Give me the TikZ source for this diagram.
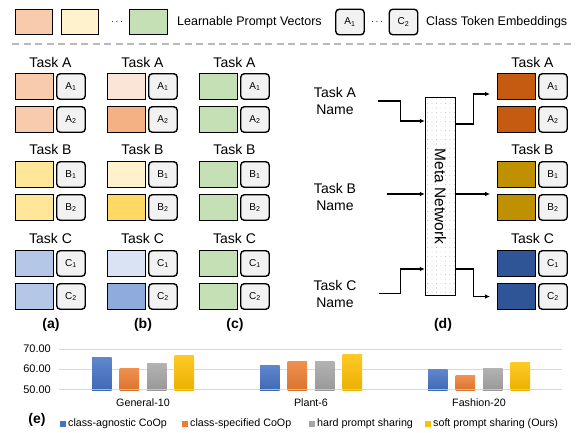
\documentclass[tikz,border=0pt]{standalone}
\usepackage{fontspec}
\setmainfont{Liberation Sans}
\usepackage{tikz}
\usetikzlibrary{arrows.meta,patterns.meta}

\definecolor{a1}{HTML}{F8CBAD}\colorlet{a2}{a1}
\definecolor{a3}{HTML}{FFE699}\colorlet{a4}{a3}
\definecolor{a5}{HTML}{B4C7E7}\colorlet{a6}{a5}
\definecolor{b1}{HTML}{FBE5D6}\definecolor{b2}{HTML}{F4B183}
\definecolor{b3}{HTML}{FFF2CC}\definecolor{b4}{HTML}{FFD966}
\definecolor{b5}{HTML}{DAE3F3}\definecolor{b6}{HTML}{8FAADC}
\definecolor{c1}{HTML}{C5E0B4}\colorlet{c2}{c1}\colorlet{c3}{c1}
\colorlet{c4}{c1}\colorlet{c5}{c1}\colorlet{c6}{c1}
\definecolor{d1}{HTML}{C55A11}\colorlet{d2}{d1}
\definecolor{d3}{HTML}{BF9000}\colorlet{d4}{d3}
\definecolor{d5}{HTML}{2F5597}\colorlet{d6}{d5}
\definecolor{tokgray}{HTML}{F2F2F2}
\definecolor{barA}{HTML}{4472C4}
\definecolor{barB}{HTML}{ED7D31}
\definecolor{barC}{HTML}{A5A5A5}
\definecolor{barD}{HTML}{FFC000}
\definecolor{gridgray}{HTML}{D9D9D9}

\begin{document}
\begin{tikzpicture}[x=1pt, y=-1pt, >={Latex[length=5pt,width=4.5pt]},
    prompt/.style={draw, line width=1.4pt, minimum width=37.5pt, minimum height=25.5pt, inner sep=0pt},
    token/.style={draw, line width=1.4pt, rounded corners=3.5pt, fill=tokgray, minimum width=28.5pt,
      minimum height=25.5pt, inner sep=0pt, font=\fontsize{10}{10}\selectfont},
    title/.style={font=\fontsize{14}{17}\selectfont, inner sep=1pt},
    panel/.style={font=\bfseries\fontsize{14}{16}\selectfont, inner sep=1pt},
    flow/.style={->, line width=1.3pt},
    grid/.style={gridgray, line width=0.9pt},
    small/.style={font=\fontsize{10.7}{12}\selectfont, inner sep=1pt}]

    \useasboundingbox (0,0) rectangle (576,432);

    % legend
    \node[prompt, fill=a1] (lp1) at (34,22) {};
    \node[prompt, fill=b3] (lp2) at (80,22) {};
    \node (ldots1) at (117,22) {$\cdots$};
    \node[prompt, fill=c1] (lp3) at (148.5,22) {};
    \node[anchor=west, inner sep=0pt, font=\fontsize{12.5}{14}\selectfont] (lptext) at (177,22) {Learnable Prompt Vectors};
    \node[token] (lt1) at (350,22) {A\textsubscript{1}};
    \node (ldots2) at (377,22) {$\cdots$};
    \node[token] (lt2) at (403.5,22) {C\textsubscript{2}};
    \node[anchor=west, inner sep=0pt, font=\fontsize{12.5}{14}\selectfont] (lttext) at (426,22) {Class Token Embeddings};
    \draw[gray!55, line width=1.2pt, dash pattern=on 7pt off 4.5pt] (12,44) -- (572,44);

    % panels (a)-(d)
    \foreach \pn/\x in {a/15, b/107, c/199, d/497} {
        \foreach \y/\tok [count=\i] in {86.5/A\textsubscript{1}, 119.5/A\textsubscript{2}, 174.5/B\textsubscript{1},
                                        207.5/B\textsubscript{2}, 263.5/C\textsubscript{1}, 296.5/C\textsubscript{2}} {
            \node[prompt, fill=\pn\i] (\pn p\i) at (\x+19.5,\y) {};
            \node[token] (\pn t\i) at (\x+56,\y) {\tok};
        }
        \foreach \y/\tsk in {62/A, 149/B, 238/C}
            \node[title] (\pn title\tsk) at (\x+35.5,\y) {Task \tsk};
    }
    \node[panel] (la) at (51,325) {(a)};
    \node[panel] (lb) at (143,325) {(b)};
    \node[panel] (lc) at (235,325) {(c)};
    \node[panel] (ld) at (443,325) {(d)};

    % meta network
    \node[title, align=center] (nameA) at (335,101) {Task A\\Name};
    \node[title, align=center] (nameB) at (335,196.5) {Task B\\Name};
    \node[title, align=center] (nameC) at (335,293.5) {Task C\\Name};
    \node[draw, line width=1.3pt, minimum width=30pt, minimum height=198pt,
          pattern={Dots[radius=0.35pt, distance=4.5pt]}, pattern color=gray!70] (meta) at (440.5,196.5) {};
    \node[rotate=-90, font=\fontsize{15.5}{16}\selectfont] (metatext) at (meta) {Meta Network};

    \draw[flow] (nameA.east) ++(21,0) -| ++(22,20) -- ([yshift=75.5pt]meta.west);
    \draw[flow] (nameB.east) ++(30,-2.5) -- ([yshift=2.5pt]meta.west);
    \draw[flow] (nameC.east) ++(21,0) -| ++(22,-24.5) -- ([yshift=-72.5pt]meta.west);
    \draw[flow] ([yshift=72.5pt]meta.east) -- ++(17,0) |- ([shift={(-7pt,-7.5pt)}]dp1.west);
    \draw[flow] ([yshift=2.5pt]meta.east) -- ++(34,0);
    \draw[flow] ([yshift=-72.5pt]meta.east) -- ++(17,0) |- ([xshift=-7pt]dp6.west);

    % chart (e)
    \foreach \v/\yy [count=\k] in {70.00/349, 60.00/369.2, 50.00/389.5} {
        \draw[grid] (59,\yy) -- (562,\yy);
        \node[anchor=east, inner sep=0pt, font=\fontsize{11}{12}\selectfont] (tick\k) at (51,\yy) {\v};
    }
    \foreach \cat/\cx/\va/\vb/\vc/\vd [count=\k] in {General-10/143/66.0/60.5/63.0/67.0,
                                                   Plant-6/311/62.1/64.0/64.0/67.5,
                                                   Fashion-20/479/60.1/56.7/60.6/63.1} {
        \foreach \dx/\val/\bc in {-41.25/\va/barA, -13.75/\vb/barB, 13.75/\vc/barC, 41.25/\vd/barD}
            \shade[top color=\bc!85!white, bottom color=\bc!92!black]
                ({\cx+\dx-9.75},390.5) rectangle ({\cx+\dx+9.75},{389.5-(\val-50)*2.025});
        \node[small] (cat\k) at (\cx,403) {\cat};
    }
    \draw[grid, opacity=0.7, line width=1.4pt] (59,389.5) -- (562,389.5);

    \node[panel] (le) at (37,420) {(e)};
    \foreach \x/\bc/\txt [count=\k] in {60/barA/class-agnostic CoOp, 182/barB/class-specified CoOp,
                                        309/barC/hard prompt sharing, 425/barD/{soft prompt sharing (Ours)}} {
        \fill[\bc] (\x,421) rectangle ++(6,6);
        \node[small, anchor=west] (key\k) at (\x+7,424) {\txt};
    }
\end{tikzpicture}
\end{document}
